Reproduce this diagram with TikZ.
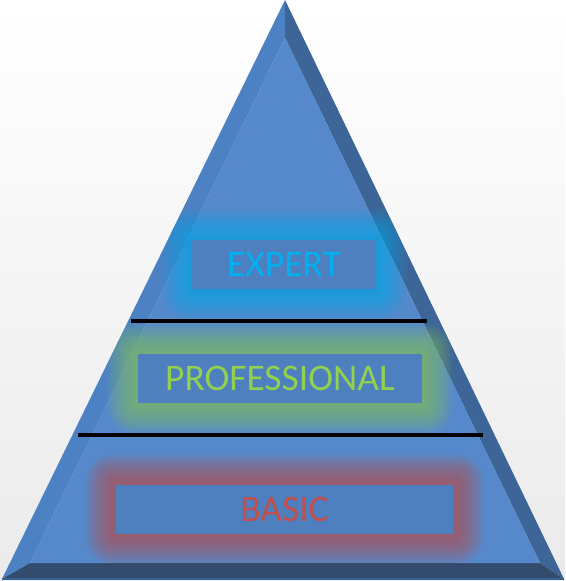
\documentclass[tikz,border=0pt]{standalone}
\usepackage{fontspec}
\setmainfont{Carlito}
\begin{document}
\begin{tikzpicture}[x=1pt,y=-1pt]
\definecolor{face}{HTML}{5589CB}
\definecolor{lbev}{HTML}{4C82C3}
\definecolor{rbev}{HTML}{3D6597}
\definecolor{bbev}{HTML}{334B6C}
\definecolor{boxfill}{HTML}{4E7FBE}
\definecolor{cexp}{HTML}{00B0F0}
\definecolor{cpro}{HTML}{92D050}
\definecolor{cbas}{HTML}{C0504D}
\tikzset{
  levelbox/.style={fill=boxfill, draw=none, inner sep=0pt, font=\fontsize{37.5}{37.5}\selectfont},
  divider/.style={line width=4.5pt, black},
}
% background
\shade[top color=white, bottom color=black!8] (0,0) rectangle (565,581);
\useasboundingbox (0,0) rectangle (565,581);
% pyramid corners
\coordinate (apex) at (285,0);
\coordinate (bl) at (2,579);
\coordinate (br) at (564,579);
\coordinate (iapex) at (285,38);
\coordinate (ibl) at (30,563);
\coordinate (ibr) at (540,563);
% bevels
\fill[lbev] (apex) -- (iapex) -- (ibl) -- (bl) -- cycle;
\fill[rbev] (apex) -- (br) -- (ibr) -- (iapex) -- cycle;
\fill[bbev] (bl) -- (ibl) -- (ibr) -- (br) -- cycle;
\fill[face] (iapex) -- (ibr) -- (ibl) -- cycle;
\draw[line width=1.5pt, black!25!lbev] (bl) -- (br);
% glows
\begin{scope}
\clip (apex) -- (br) -- (bl) -- cycle;
\foreach \r in {1,...,22}{
  \fill[cexp, opacity=0.045, rounded corners=1.2*\r pt] (192-1.4*\r,240-1.4*\r) rectangle (376+1.4*\r,289+1.4*\r);
  \fill[cpro, opacity=0.045, rounded corners=1.2*\r pt] (138-1.4*\r,354-1.4*\r) rectangle (422+1.4*\r,403+1.4*\r);
  \fill[cbas, opacity=0.05, rounded corners=1.2*\r pt] (116-1.4*\r,485-1.4*\r) rectangle (453+1.4*\r,534+1.4*\r);
}
\end{scope}
% boxes
\node[levelbox, minimum width=184pt, minimum height=49pt, text=cexp] (expert) at (284,264.5) {EXPERT};
\node[levelbox, minimum width=284pt, minimum height=49pt, text=cpro] (professional) at (280,378.5) {PROFESSIONAL};
\node[levelbox, minimum width=337pt, minimum height=49pt, text=cbas] (basic) at (284.5,509.5) {BASIC};
% dividers
\coordinate (d1l) at (131,321);
\coordinate (d1r) at (427,321);
\coordinate (d2l) at (78,435);
\coordinate (d2r) at (483,435);
\draw[divider] (d1l) -- (d1r);
\draw[divider] (d2l) -- (d2r);
\end{tikzpicture}
\end{document}
